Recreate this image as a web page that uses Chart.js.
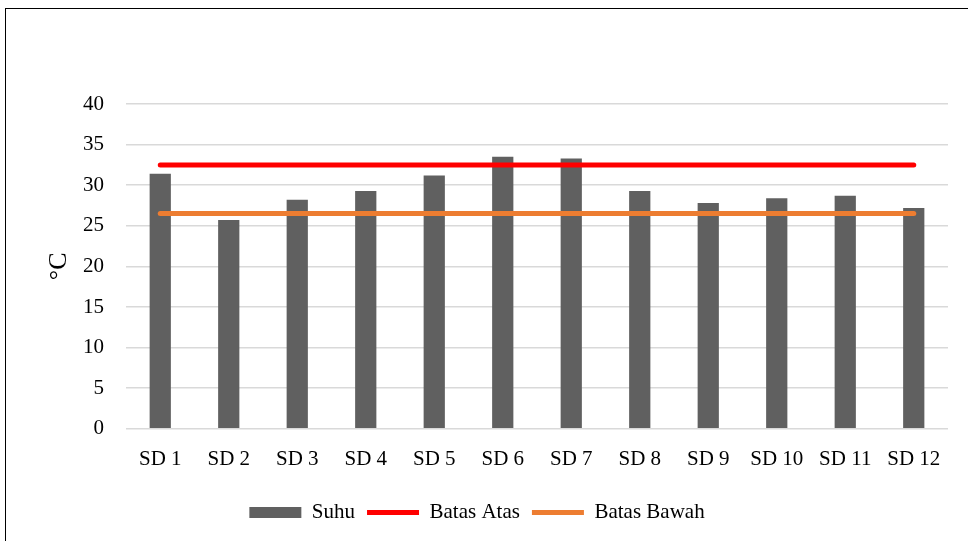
<!DOCTYPE html>
<html>
<head>
<meta charset="utf-8">
<script src="https://cdn.jsdelivr.net/npm/chart.js@4"></script>
<style>
  body { margin: 0; background: #fff; }
  #frame { position: absolute; left: 5px; top: 8px; width: 962px; height: 540px; border: 1px solid #000; background: #fff; }
</style>
</head>
<body>
<div id="frame"><canvas id="suhuChart" width="962" height="540"></canvas></div>
<script>
  // suhu ruang kelas per sekolah, dengan batas atas / bawah
  const labels = ['SD 1', 'SD 2', 'SD 3', 'SD 4', 'SD 5', 'SD 6', 'SD 7', 'SD 8', 'SD 9', 'SD 10', 'SD 11', 'SD 12'];
  const suhu = [31.4, 25.7, 28.2, 29.3, 31.2, 33.5, 33.3, 29.3, 27.8, 28.4, 28.7, 27.2];
  const batasAtas = [32.5, 32.5, 32.5, 32.5, 32.5, 32.5, 32.5, 32.5, 32.5, 32.5, 32.5, 32.5];
  const batasBawah = [26.5, 26.5, 26.5, 26.5, 26.5, 26.5, 26.5, 26.5, 26.5, 26.5, 26.5, 26.5];
  const yTicks = [0, 5, 10, 15, 20, 25, 30, 35, 40];

  const font = 'Liberation Serif';

  new Chart(document.getElementById('suhuChart'), {
    type: 'bar',
    data: {
      labels: labels,
      datasets: [{
        label: 'Suhu',
        data: suhu,
        backgroundColor: '#606060',
        borderWidth: 0,
        barPercentage: 0.31,
        categoryPercentage: 1,
        pointStyle: 'rect',
        order: 2
      }, {
        type: 'line',
        label: 'Batas Atas',
        data: batasAtas,
        borderColor: '#ff0000',
        backgroundColor: '#ff0000',
        borderWidth: 5,
        borderCapStyle: 'round',
        pointRadius: 0,
        pointStyle: 'line',
        order: 1
      }, {
        type: 'line',
        label: 'Batas Bawah',
        data: batasBawah,
        borderColor: '#ed7d31',
        backgroundColor: '#ed7d31',
        borderWidth: 5,
        borderCapStyle: 'round',
        pointRadius: 0,
        pointStyle: 'line',
        order: 1
      }]
    },
    options: {
      responsive: false,
      animation: false,
      layout: { padding: { top: 95, right: 20, bottom: 16, left: 0 } },
      plugins: {
        tooltip: { enabled: false },
        legend: {
          position: 'bottom',
          labels: {
            usePointStyle: true,
            pointStyleWidth: 52,
            boxHeight: 11,
            color: '#000',
            font: { family: font, size: 21 },
            padding: 12,
            sort: (a, b) => a.datasetIndex - b.datasetIndex
          }
        }
      },
      scales: {
        x: {
          grid: { display: false, drawTicks: false },
          border: { display: false },
          ticks: { color: '#000', font: { family: font, size: 21 }, padding: 18, maxRotation: 0 }
        },
        y: {
          min: 0,
          max: 40,
          afterBuildTicks: (scale) => { scale.ticks = yTicks.map(v => ({ value: v })); },
          afterFit: (scale) => { scale.width = 120; },
          grid: { color: '#d9d9d9', lineWidth: 1.5, drawTicks: false },
          border: { display: false },
          ticks: { color: '#000', font: { family: font, size: 21 }, padding: 22 },
          title: {
            display: true,
            text: '°C',
            color: '#000',
            font: { family: font, size: 26 },
            padding: { top: 38, bottom: 0 }
          }
        }
      }
    }
  });
</script>
</body>
</html>
